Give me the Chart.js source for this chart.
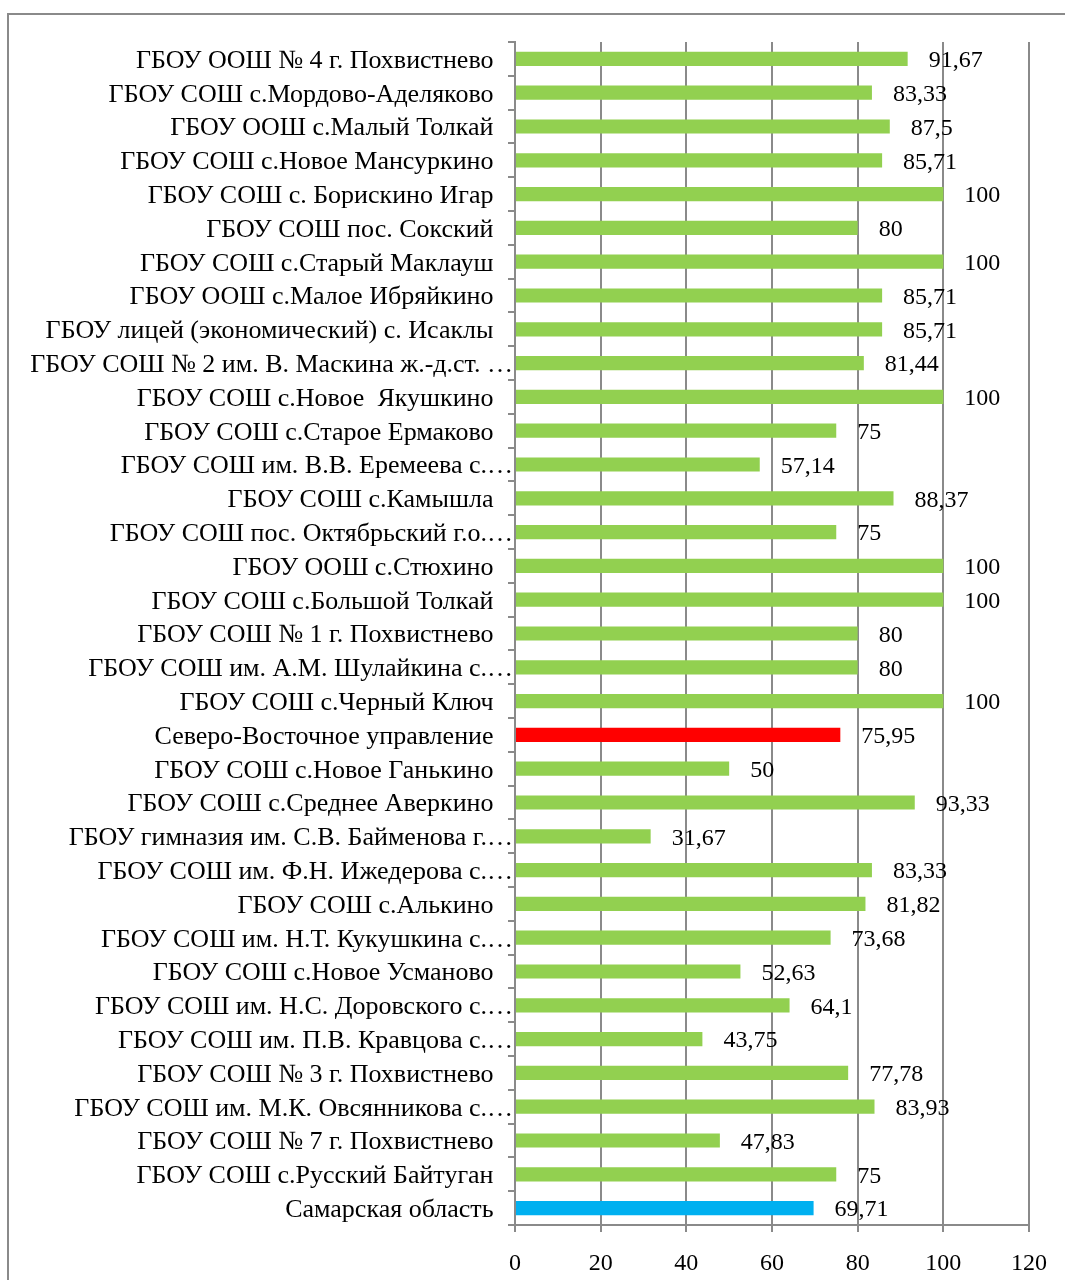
<!DOCTYPE html>
<html><head><meta charset="utf-8">
<script src="https://cdn.jsdelivr.net/npm/chart.js@4"></script>
<style>html,body{margin:0;padding:0;background:#fff;overflow:hidden}#wrap{position:relative;width:1065px;height:1280px}</style>
</head><body><div id="wrap"><canvas id="c" width="1065" height="1280"></canvas></div>
<script>
const categories = [
  "ГБОУ ООШ № 4 г. Похвистнево",
  "ГБОУ СОШ с.Мордово-Аделяково",
  "ГБОУ ООШ с.Малый Толкай",
  "ГБОУ СОШ с.Новое Мансуркино",
  "ГБОУ СОШ с. Борискино Игар",
  "ГБОУ СОШ пос. Сокский",
  "ГБОУ СОШ с.Старый Маклауш",
  "ГБОУ ООШ с.Малое Ибряйкино",
  "ГБОУ лицей (экономический) с. Исаклы",
  "ГБОУ СОШ № 2 им. В. Маскина ж.-д.ст. …",
  "ГБОУ СОШ с.Новое  Якушкино",
  "ГБОУ СОШ с.Старое Ермаково",
  "ГБОУ СОШ им. В.В. Еремеева с.…",
  "ГБОУ СОШ с.Камышла",
  "ГБОУ СОШ пос. Октябрьский г.о.…",
  "ГБОУ ООШ с.Стюхино",
  "ГБОУ СОШ с.Большой Толкай",
  "ГБОУ СОШ № 1 г. Похвистнево",
  "ГБОУ СОШ им. А.М. Шулайкина с.…",
  "ГБОУ СОШ с.Черный Ключ",
  "Северо-Восточное управление",
  "ГБОУ СОШ с.Новое Ганькино",
  "ГБОУ СОШ с.Среднее Аверкино",
  "ГБОУ гимназия им. С.В. Байменова г.…",
  "ГБОУ СОШ им. Ф.Н. Ижедерова с.…",
  "ГБОУ СОШ с.Алькино",
  "ГБОУ СОШ им. Н.Т. Кукушкина с.…",
  "ГБОУ СОШ с.Новое Усманово",
  "ГБОУ СОШ им. Н.С. Доровского с.…",
  "ГБОУ СОШ им. П.В. Кравцова с.…",
  "ГБОУ СОШ № 3 г. Похвистнево",
  "ГБОУ СОШ им. М.К. Овсянникова с.…",
  "ГБОУ СОШ № 7 г. Похвистнево",
  "ГБОУ СОШ с.Русский Байтуган",
  "Самарская область"
];
const values = [
  91.67, 83.33, 87.5, 85.71, 100, 80, 100, 85.71, 85.71, 81.44,
  100, 75, 57.14, 88.37, 75, 100, 100, 80, 80, 100,
  75.95, 50, 93.33, 31.67, 83.33, 81.82, 73.68, 52.63, 64.1, 43.75,
  77.78, 83.93, 47.83, 75, 69.71
];
const xTickValues = [0, 20, 40, 60, 80, 100, 120];
const highlightCategories = ["Северо-Восточное управление", "Самарская область"];
const highlightColors = ["#FF0000", "#00B0F0"];

const FONT = '"Liberation Serif", "Times New Roman", serif';
const GREEN = "#92D050";
const GRID = "#8A8A8A";

const barColors = categories.map(c => {
  const i = highlightCategories.indexOf(c);
  return i >= 0 ? highlightColors[i] : GREEN;
});

const framePlugin = {
  id: 'frame',
  beforeDraw(chart) {
    const ctx = chart.ctx;
    ctx.save();
    ctx.strokeStyle = GRID;
    ctx.lineWidth = 2;
    ctx.beginPath();
    ctx.moveTo(8, 1280);
    ctx.lineTo(8, 14);
    ctx.lineTo(1065, 14);
    ctx.stroke();
    ctx.restore();
  }
};

const valueLabels = {
  id: 'valueLabels',
  afterDatasetsDraw(chart) {
    const ctx = chart.ctx;
    const meta = chart.getDatasetMeta(0);
    ctx.save();
    ctx.font = '24px ' + FONT;
    ctx.fillStyle = '#000';
    ctx.textAlign = 'left';
    ctx.textBaseline = 'middle';
    meta.data.forEach((bar, i) => {
      const txt = String(values[i]).replace('.', ',');
      ctx.fillText(txt, bar.x + 21, bar.y + 2);
    });
    ctx.restore();
  }
};

new Chart(document.getElementById('c'), {
  type: 'bar',
  data: {
    labels: categories,
    datasets: [{
      data: values,
      backgroundColor: barColors,
      borderWidth: 0,
      barPercentage: 0.42,
      categoryPercentage: 1.0
    }]
  },
  options: {
    indexAxis: 'y',
    responsive: false,
    animation: false,
    devicePixelRatio: 1,
    layout: { padding: { left: 0, top: 42, right: 36, bottom: 0 } },
    plugins: { legend: { display: false }, tooltip: { enabled: false } },
    scales: {
      x: {
        type: 'linear',
        min: 0, max: 120,
        afterBuildTicks(scale) { scale.ticks = xTickValues.map(v => ({ value: v })); },
        afterFit(scale) { scale.height = 55; },
        grid: { color: GRID, lineWidth: 2, tickLength: 7, drawOnChartArea: true },
        border: { color: GRID, width: 2 },
        ticks: { color: '#000', font: { family: FONT, size: 24 }, padding: 17, maxRotation: 0 }
      },
      y: {
        type: 'category',
        afterFit(scale) { scale.width = 515; },
        grid: { color: GRID, lineWidth: 2, tickLength: 7, drawOnChartArea: false, offset: true },
        border: { color: GRID, width: 2 },
        ticks: {
          color: '#000',
          font: { family: FONT, size: 26 },
          padding: -5,
          labelOffset: 2,
          autoSkip: false,
          callback(v, i) {
            const s = categories[i];
            return s.endsWith('…') ? s : s + '   ';
          }
        }
      }
    }
  },
  plugins: [framePlugin, valueLabels]
});
</script></body></html>
